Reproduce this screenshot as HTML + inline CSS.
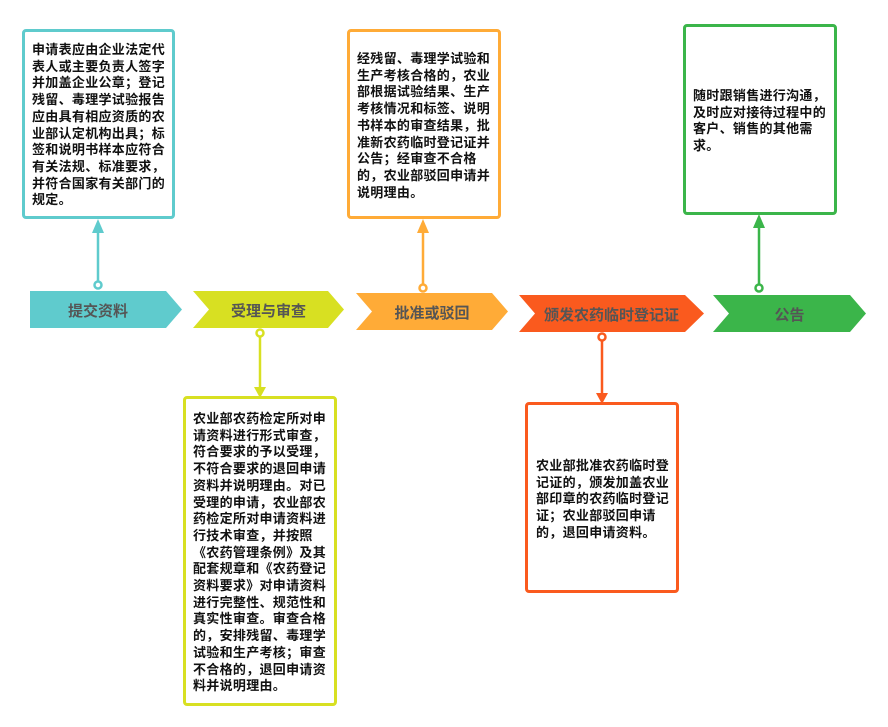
<!DOCTYPE html>
<html><head><meta charset="utf-8"><style>
body{margin:0;width:888px;height:727px;background:#fff;position:relative;overflow:hidden;font-family:"Liberation Sans","Noto Sans CJK SC",sans-serif}
.box{position:absolute;border:3px solid;border-radius:4px;box-sizing:border-box;background:#fff}
.t{position:absolute;font-size:13px;font-weight:bold;line-height:16.7px;color:#111;letter-spacing:0.3px;white-space:nowrap}
.lab{position:absolute;font-size:15px;font-weight:bold;color:#555;text-align:center;white-space:nowrap}
</style></head><body>
<svg width="888" height="727" style="position:absolute;left:0;top:0">
<polygon points="30,291 166,291 182,309.5 166,328 30,328" fill="#5fcbcd"/>
<polygon points="193,291 328,291 344,309.5 328,328 193,328 209,309.5" fill="#d8e022"/>
<polygon points="356,293 492,293 508,311.5 492,330 356,330 372,311.5" fill="#ffab37"/>
<polygon points="519,295 685,295 704,313.5 685,332 519,332 535,313.5" fill="#fa5a1e"/>
<polygon points="713,295 850,295 866,313.5 850,332 713,332 729,313.5" fill="#3bb54a"/>
<g stroke-width="2.5" fill="#fff">
<line x1="98" y1="281" x2="98" y2="230" stroke="#5fcbcd"/><circle cx="98" cy="285" r="3.5" stroke="#5fcbcd"/>
<line x1="260" y1="337" x2="260" y2="388" stroke="#d8e022"/><circle cx="260" cy="333" r="3.5" stroke="#d8e022"/>
<line x1="423" y1="284" x2="423" y2="230" stroke="#ffab37"/><circle cx="423" cy="288" r="3.5" stroke="#ffab37"/>
<line x1="602" y1="341" x2="602" y2="394" stroke="#fa5a1e"/><circle cx="602" cy="337" r="3.5" stroke="#fa5a1e"/>
<line x1="759" y1="284" x2="759" y2="226" stroke="#3bb54a"/><circle cx="759" cy="288" r="3.5" stroke="#3bb54a"/>
</g>
<polygon points="92,233 104,233 98,219" fill="#5fcbcd"/>
<polygon points="254,387 266,387 260,398" fill="#d8e022"/>
<polygon points="417,233 429,233 423,219" fill="#ffab37"/>
<polygon points="596,393 608,393 602,404" fill="#fa5a1e"/>
<polygon points="753,228 765,228 759,214" fill="#3bb54a"/>
</svg>
<div class="lab" style="left:30px;top:300px;width:136px">提交资料</div>
<div class="lab" style="left:193px;top:300px;width:151px">受理与审查</div>
<div class="lab" style="left:356px;top:302px;width:152px">批准或驳回</div>
<div class="lab" style="left:519px;top:304px;width:185px">颁发农药临时登记证</div>
<div class="lab" style="left:713px;top:304px;width:153px">公告</div>

<div class="box" style="left:22px;top:29px;width:153px;height:190px;border-color:#5fcbcd"></div>
<div class="t" style="left:32px;top:42px">申请表应由企业法定代<br>表人或主要负责人签字<br>并加盖企业公章；登记<br>残留、毒理学试验报告<br>应由具有相应资质的农<br>业部认定机构出具；标<br>签和说明书样本应符合<br>有关法规、标准要求，<br>并符合国家有关部门的<br>规定。</div>

<div class="box" style="left:347px;top:29px;width:154px;height:190px;border-color:#ffab37"></div>
<div class="t" style="left:357px;top:51px">经残留、毒理学试验和<br>生产考核合格的，农业<br>部根据试验结果、生产<br>考核情况和标签、说明<br>书样本的审查结果，批<br>准新农药临时登记证并<br>公告；经审查不合格<br>的，农业部驳回申请并<br>说明理由。</div>

<div class="box" style="left:683px;top:24px;width:154px;height:191px;border-color:#3bb54a"></div>
<div class="t" style="left:693px;top:88px">随时跟销售进行沟通，<br>及时应对接待过程中的<br>客户、销售的其他需<br>求。</div>

<div class="box" style="left:183px;top:396px;width:154px;height:310px;border-color:#d8e022"></div>
<div class="t" style="left:193px;top:411px">农业部农药检定所对申<br>请资料进行形式审查，<br>符合要求的予以受理，<br>不符合要求的退回申请<br>资料并说明理由。对已<br>受理的申请，农业部农<br>药检定所对申请资料进<br>行技术审查，并按照<br>《农药管理条例》及其<br>配套规章和《农药登记<br>资料要求》对申请资料<br>进行完整性、规范性和<br>真实性审查。审查合格<br>的，安排残留、毒理学<br>试验和生产考核；审查<br>不合格的，退回申请资<br>料并说明理由。</div>

<div class="box" style="left:525px;top:402px;width:154px;height:191px;border-color:#fa5a1e"></div>
<div class="t" style="left:536px;top:458px">农业部批准农药临时登<br>记证的，颁发加盖农业<br>部印章的农药临时登记<br>证；农业部驳回申请<br>的，退回申请资料。</div>
</body></html>
